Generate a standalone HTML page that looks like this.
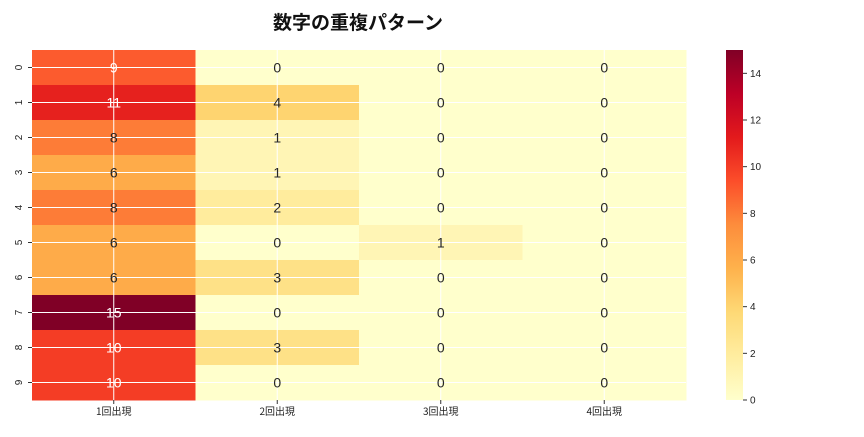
<!DOCTYPE html>
<html><head><meta charset="utf-8"><style>
body{margin:0;background:#fff;width:864px;height:432px;overflow:hidden;font-family:"Liberation Sans","Noto Sans CJK JP",sans-serif}
</style></head><body>
<svg id="c" width="864" height="432" xmlns="http://www.w3.org/2000/svg">
<defs><linearGradient id="cb" x1="0" y1="1" x2="0" y2="0">
<stop offset="0" stop-color="#ffffcc"/><stop offset="0.125" stop-color="#ffeda0"/><stop offset="0.25" stop-color="#fed976"/><stop offset="0.375" stop-color="#feb24c"/><stop offset="0.5" stop-color="#fd8d3c"/><stop offset="0.625" stop-color="#fc4e2a"/><stop offset="0.75" stop-color="#e31a1c"/><stop offset="0.875" stop-color="#bd0026"/><stop offset="1" stop-color="#800026"/>
</linearGradient></defs>
<text x="358" y="29" text-anchor="middle" font-size="19" font-weight="bold" fill="#111" font-family="'Noto Sans CJK JP',sans-serif">数字の重複パターン</text>
<g id="cells"></g><g id="grid"></g><g id="labels"></g>
<rect x="726" y="50" width="17" height="350" fill="url(#cb)"/>
<g id="cbt"></g>
</svg>
<script>
const rowLabels=["0","1","2","3","4","5","6","7","8","9"];
const colLabels=["1回出現","2回出現","3回出現","4回出現"];
const col1=[9,11,8,6,8,6,6,15,10,10];
const col2=[0,4,1,1,2,0,3,0,3,0];
const col3=[0,0,0,0,0,1,0,0,0,0];
const col4=[0,0,0,0,0,0,0,0,0,0];
const cbTicks=[0,2,4,6,8,10,12,14];
const vmin=0,vmax=15;
const X0=32,X1=686,Y0=50,Y1=400;
const cols=[col1,col2,col3,col4];
const cw=(X1-X0)/colLabels.length,rh=(Y1-Y0)/rowLabels.length;
const xs=i=>X0+i*cw, ys=j=>Y0+j*rh, cy=v=>Y1-(v-vmin)/(vmax-vmin)*(Y1-Y0);
const stops=["#ffffcc","#ffeda0","#fed976","#feb24c","#fd8d3c","#fc4e2a","#e31a1c","#bd0026","#800026"].map(h=>[1,3,5].map(k=>parseInt(h.substr(k,2),16)));
function cmap(v){let t=Math.max(0,Math.min(1,(v-vmin)/(vmax-vmin)))*8;let i=Math.min(7,Math.floor(t)),f=t-i;const c=stops[i].map((a,k)=>a+(stops[i+1][k]-a)*f);return c;}
const NS="http://www.w3.org/2000/svg";
function mk(t,a,p){const e=document.createElementNS(NS,t);for(const k in a)e.setAttribute(k,a[k]);document.getElementById(p).appendChild(e);return e;}
cols.forEach((arr,i)=>arr.forEach((v,j)=>{
 const c=cmap(v);
 const r=mk('rect',{x:xs(i),y:ys(j),width:cw+0.5,height:rh+0.5,fill:`rgb(${c.map(Math.round).join(',')})`},'cells');
 
 
 const lum=(0.2126*c[0]+0.7152*c[1]+0.0722*c[2])/255;
 const t=mk('text',{x:xs(i)+cw/2,y:ys(j)+rh/2+5,'text-anchor':'middle','font-size':14,fill:lum>0.5?'#262626':'#fff'},'labels');
 t.textContent=v;
 
 
}));
colLabels.forEach((l,i)=>{
 const x=xs(i)+cw/2;
 const g=mk('line',{x1:x,x2:x,y1:Y0,y2:Y1+4,stroke:'#fff','stroke-width':1},'grid');
 
 
 mk('line',{x1:x,x2:x,y1:Y1,y2:Y1+4,stroke:'#333'},'grid');
 const t=mk('text',{x:x,y:Y1+15,'text-anchor':'middle','font-size':10,fill:'#222','font-family':"'Noto Sans CJK JP',sans-serif"},'labels');
 t.textContent=l;
 
 
});
rowLabels.forEach((l,j)=>{
 const y=ys(j)+rh/2;
 const g=mk('line',{x1:X0-4,x2:X1,y1:y,y2:y,stroke:'#fff','stroke-width':1},'grid');
 
 
 mk('line',{x1:X0-4,x2:X0,y1:y,y2:y,stroke:'#333'},'grid');
 const t=mk('text',{x:0,y:0,'text-anchor':'middle','font-size':10,fill:'#222',transform:`translate(22,${y}) rotate(-90)`},'labels');
 t.textContent=l;
 
 
});
cbTicks.forEach(v=>{
 const y=cy(v);
 mk('line',{x1:743,x2:747,y1:y,y2:y,stroke:'#333'},'cbt');
 const t=mk('text',{x:750,y:y+3.5,'font-size':10,fill:'#222'},'cbt');
 t.textContent=v;
 
 
});
</script>
</body></html>
